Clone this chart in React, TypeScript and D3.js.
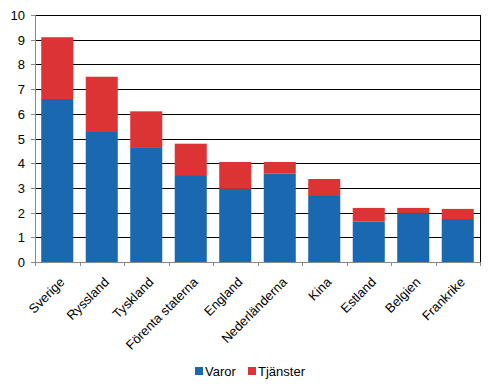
import React from "react";
import * as d3 from "d3";

const COUNTRIES = ["Sverige", "Ryssland", "Tyskland", "Förenta staterna", "England", "Nederländerna", "Kina", "Estland", "Belgien", "Frankrike"];
const VAROR = [6.6, 5.3, 4.65, 3.52, 2.96, 3.58, 2.71, 1.64, 1.98, 1.74];
const TJANSTER = [2.5, 2.2, 1.45, 1.27, 1.09, 0.47, 0.65, 0.55, 0.21, 0.41];
const Y_TICKS = [0, 1, 2, 3, 4, 5, 6, 7, 8, 9, 10];

const BLUE = "#1a68b0";
const RED = "#dc3434";
const FONT = "Liberation Sans, Arial, sans-serif";

const W = 496;
const H = 391;
const M = { top: 15, right: 16, bottom: 129, left: 35 };

export default function App() {
  const iW = W - M.left - M.right;
  const iH = H - M.top - M.bottom;

  const x = d3.scaleBand<string>().domain(COUNTRIES).range([0, iW]).paddingInner(0.28).paddingOuter(0.14);
  const step = x.step();
  const y = d3.scaleLinear().domain([0, 10]).range([iH, 0]);

  return (
    <svg width={W} height={H} style={{ position: "absolute", left: 0, top: 0 }} fontFamily={FONT}>
      <g transform={`translate(${M.left},${M.top})`}>
        {/* gridlines */}
        {Y_TICKS.filter(t => t > 0).map(t => (
          <line key={t} x1={0} x2={iW} y1={Math.round(y(t)) + 0.5} y2={Math.round(y(t)) + 0.5} stroke="#000" strokeWidth={1} />
        ))}
        {/* stacked bars */}
        {COUNTRIES.map((c, i) => {
          const bx = x(c)!;
          return (
            <g key={c}>
              <rect x={bx} width={x.bandwidth()} y={y(VAROR[i])} height={iH - y(VAROR[i])} fill={BLUE} />
              <rect x={bx} width={x.bandwidth()} y={y(VAROR[i] + TJANSTER[i])} height={y(VAROR[i]) - y(VAROR[i] + TJANSTER[i])} fill={RED} />
            </g>
          );
        })}
        {/* right border */}
        <line x1={iW + 0.5} x2={iW + 0.5} y1={0} y2={iH} stroke="#000" />
        {/* y axis */}
        <line x1={0.5} x2={0.5} y1={0} y2={iH} stroke="#888" />
        {Y_TICKS.map(t => (
          <g key={t} transform={`translate(0,${Math.round(y(t)) + 0.5})`}>
            <line x1={-4} x2={0} stroke="#888" />
            <text x={-10} dy="0.36em" textAnchor="end" fontSize={13} fill="#000">{t}</text>
          </g>
        ))}
        {/* x axis */}
        <line x1={0} x2={iW} y1={iH + 0.5} y2={iH + 0.5} stroke="#888" />
        {d3.range(COUNTRIES.length + 1).map(i => (
          <line key={i} x1={Math.round(i * step) + 0.5} x2={Math.round(i * step) + 0.5} y1={iH} y2={iH + 4} stroke="#888" />
        ))}
        {COUNTRIES.map((c, i) => {
          const cx = (i + 0.5) * step + 8;
          const cy = iH + 21;
          return (
            <text key={c} transform={`translate(${cx},${cy}) rotate(-45)`} textAnchor="end" fontSize={13} fill="#000">{c}</text>
          );
        })}
      </g>
      {/* legend */}
      <g fontSize={13}>
        <rect x={195} y={367} width={8} height={8} fill={BLUE} />
        <text x={205} y={376} fill="#000">Varor</text>
        <rect x={248} y={367} width={8} height={8} fill={RED} />
        <text x={258} y={376} fill="#000">Tjänster</text>
      </g>
    </svg>
  );
}
